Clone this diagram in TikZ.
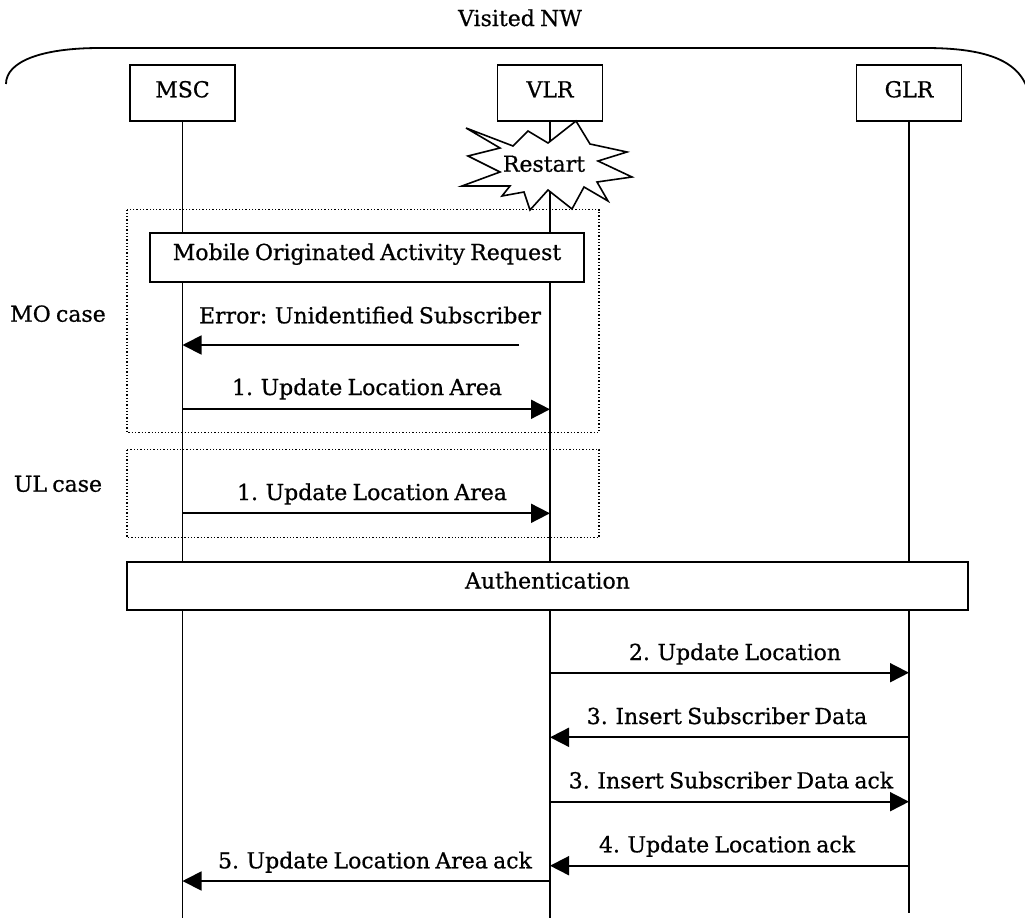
\documentclass[tikz,border=0pt]{standalone}
\usepackage{fontspec}
\setmainfont{DejaVu Serif}[RawFeature={embolden=0.7}, WordSpace=0.75]
\usetikzlibrary{arrows.meta,calc}
\begin{document}
\begin{tikzpicture}[x=1pt,y=-1pt,
  every node/.style={font=\fontsize{22}{26}\selectfont, inner sep=0pt},
  ent/.style={draw, line width=1.8pt, fill=white, minimum width=105pt, minimum height=56pt, text height=16pt, text depth=7.4pt},
  life/.style={line width=1.8pt},
  msg/.style={line width=1.8pt, -{Triangle[length=19pt,width=19pt]}},
  grp/.style={line width=1.3pt, dotted},
  bar/.style={draw, line width=1.8pt, fill=white, text height=16pt, text depth=11pt},
  lbl/.style={anchor=base},
  burst/.style={draw, line width=1.6pt, fill=white, line join=miter}
]
\useasboundingbox (0,0) rectangle (1025,918);
\clip (0,0) rectangle (1025,918);

% title and network arc
\node[lbl] (title) at (520,26) {Visited NW};
\draw[line width=1.8pt] (6,84) .. controls (6,62) and (40,48) .. (100,48) -- (925,48)
  .. controls (990,48) and (1025,62) .. (1030,100);

% entities
\node[ent] (msc) at (182.5,93) {MSC};
\node[ent] (vlr) at (550,93) {VLR};
\node[ent] (glr) at (909,93) {GLR};

\coordinate (mscEnd) at (182.5,918);
\coordinate (vlrEnd) at (550,918);
\coordinate (glrEnd) at (909,913);
\draw[life] (msc.south) -- (mscEnd);
\draw[life] (vlr.south) -- (vlrEnd);
\draw[life] (glr.south) -- (glrEnd);

% restart burst
\draw[burst] (466,128) -- (513,146) -- (528,131) -- (548,143) -- (576,121) -- (590,144)
  -- (627,152) -- (598,161) -- (632,177) -- (597,182) -- (608,201) -- (584,187)
  -- (572,209) -- (548,190) -- (530,210) -- (524,192) -- (502,196) -- (510,186)
  -- (462,186) -- (500,172) -- (468,156) -- (500,148) -- cycle;
\node[lbl] (restart) at (544,171.7) {Restart};

% groups
\draw[grp] (127,209.5) rectangle (599,432.5);
\draw[grp] (127,449.5) rectangle (599,537.5);
\node[lbl] (mo) at (58,321.7) {MO case};
\node[lbl] (ul) at (58,491.7) {UL case};

% bars
\node[bar, minimum width=434pt, minimum height=48.4pt] (moar) at (367,257.5) {Mobile Originated Activity Request};
\node[bar, minimum width=841pt, minimum height=48.3pt] (auth) at (547.5,586) {Authentication};

% rows
\coordinate (rErr) at (0,345);
\coordinate (errS) at (519,345);
\coordinate (r1) at (0,409.3);
\coordinate (r1b) at (0,513.3);
\coordinate (r2) at (0,672.7);
\coordinate (r3) at (0,737.3);
\coordinate (r3b) at (0,801.7);
\coordinate (r4) at (0,865.7);
\coordinate (r5) at (0,881);

\draw[msg] (errS) -- (msc |- rErr);
\node[lbl] (lErr) at (370,323.3) {Error: Unidentified Subscriber};

\draw[msg] (msc |- r1) -- (vlr |- r1);
\node[lbl] (l1) at (367,395) {1. Update Location Area};

\draw[msg] (msc |- r1b) -- (vlr |- r1b);
\node[lbl] (l1b) at (372,500) {1. Update Location Area};

\draw[msg] (vlr |- r2) -- (glr |- r2);
\node[lbl] (l2) at (735,660) {2. Update Location};

\draw[msg] (glr |- r3) -- (vlr |- r3);
\node[lbl] (l3) at (727,724) {3. Insert Subscriber Data};

\draw[msg] (vlr |- r3b) -- (glr |- r3b);
\node[lbl] (l3b) at (731,788.3) {3. Insert Subscriber Data ack};

\draw[msg] (glr |- r4) -- (vlr |- r4);
\node[lbl] (l4) at (727,852.3) {4. Update Location ack};

\draw[msg] (vlr |- r5) -- (msc |- r5);
\node[lbl] (l5) at (375,868.3) {5. Update Location Area ack};
\end{tikzpicture}
\end{document}
